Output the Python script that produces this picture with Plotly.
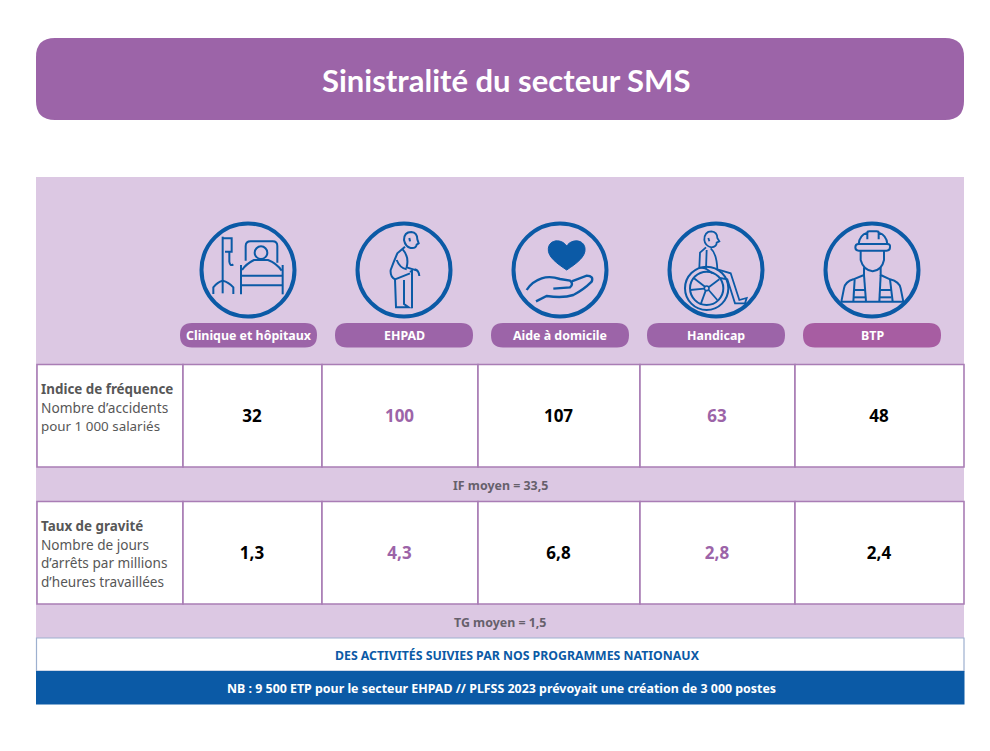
import re
import plotly.graph_objects as go

# ---- data ----
TITLE = "Sinistralité du secteur SMS"
categories = ["Clinique et hôpitaux", "EHPAD", "Aide à domicile", "Handicap", "BTP"]
if_values = [32, 100, 107, 63, 48]
tg_values = [1.3, 4.3, 6.8, 2.8, 2.4]
if_label = ["Indice de fréquence", "Nombre d’accidents", "pour 1 000 salariés"]
tg_label = ["Taux de gravité", "Nombre de jours", "d’arrêts par millions", "d’heures travaillées"]
if_mean = "IF moyen = 33,5"
tg_mean = "TG moyen = 1,5"
banner_white = "DES ACTIVITÉS SUIVIES PAR NOS PROGRAMMES NATIONAUX"
banner_blue = "NB : 9 500 ETP pour le secteur EHPAD // PLFSS 2023 prévoyait une création de 3 000 postes"

# ---- layout constants ----
W, H = 990, 751
PURPLE = "#9C64A8"
LIGHT = "#DCC8E3"
BORDER = "#A97DB5"
BLUE = "#0B5AA6"
GREY = "#575757"
FONT = "Noto Sans"
col_edges = [37, 183, 322, 478, 640, 795, 964]
row_if = (364.5, 467)
row_tg = (501.5, 604)
circle_x = [248, 404, 560, 716, 872]
pill_edges = [(180, 317), (335, 473), (491, 629), (647, 785), (803, 941)]
pill_colors = [PURPLE, PURPLE, PURPLE, PURPLE, "#A75DA2"]

shapes = []


def rrect(x0, y0, x1, y1, r, fill, line=None, lw=0):
    p = (f"M{x0+r},{y0} L{x1-r},{y0} Q{x1},{y0} {x1},{y0+r} L{x1},{y1-r} Q{x1},{y1} {x1-r},{y1} "
         f"L{x0+r},{y1} Q{x0},{y1} {x0},{y1-r} L{x0},{y0+r} Q{x0},{y0} {x0+r},{y0} Z")
    shapes.append(dict(type="path", path=p, fillcolor=fill, line=dict(color=line or fill, width=lw),
                       layer="below"))


def rect(x0, y0, x1, y1, fill, line=None, lw=0):
    shapes.append(dict(type="rect", x0=x0, y0=y0, x1=x1, y1=y1, fillcolor=fill,
                       line=dict(color=line or fill, width=lw), layer="below"))


def glyph(path, ox, oy, width=2.0, fill=None):
    """Icon paths are written at 3x scale relative to a crop origin."""
    i = {"n": 0}

    def sub(m):
        v = float(m.group()) / 3 + (oy if i["n"] % 2 else ox)
        i["n"] += 1
        return f"{v:.2f}"

    out = re.sub(r"-?\d+\.?\d*", sub, path)
    shapes.append(dict(type="path", path=out, line=dict(color=BLUE, width=width),
                       fillcolor=fill or "rgba(0,0,0,0)", layer="below"))


def circ(cx, cy, r, ox, oy, width=2.0):
    glyph(f"M{cx-r},{cy} C{cx-r},{cy-0.55*r} {cx-0.55*r},{cy-r} {cx},{cy-r} "
          f"C{cx+0.55*r},{cy-r} {cx+r},{cy-0.55*r} {cx+r},{cy} "
          f"C{cx+r},{cy+0.55*r} {cx+0.55*r},{cy+r} {cx},{cy+r} "
          f"C{cx-0.55*r},{cy+r} {cx-r},{cy+0.55*r} {cx-r},{cy} Z", ox, oy, width)


# panels
rrect(36, 38, 964, 120, 19, PURPLE)
rect(36, 177, 964, 638, LIGHT)
for top, bottom in (row_if, row_tg):
    for a, b in zip(col_edges[:-1], col_edges[1:]):
        rect(a, top, b, bottom, "white", BORDER, 1.6)
rect(36.5, 638, 964, 671, "white", "#9DB0CF", 1.2)
rect(36, 671, 964.5, 704.5, BLUE)

# pills and icon rings
for (a, b), c in zip(pill_edges, pill_colors):
    rrect(a, 323, b, 347.5, 12, c)
for cx in circle_x:
    shapes.append(dict(type="circle", x0=cx - 46.5, x1=cx + 46.5, y0=270 - 46.5, y1=270 + 46.5,
                       line=dict(color=BLUE, width=4), fillcolor="rgba(0,0,0,0)", layer="below"))

# bed icon
O1 = (180, 210)
for p in [
    "M128,80 L128,250", "M128,85 L155,85 L155,125 L135,125",
    "M148,125 L148,155 Q150,170 160,163",
    "M100,252 L100,232 Q112,216 128,212 Q146,216 160,232 L160,252",
    "M197,152 L197,108 Q197,94 212,94 L278,94 Q292,94 292,108 L292,158",
    "M183,165 L183,253", "M308,165 L308,253", "M183,197 L308,197", "M183,226 L308,226",
    "M186,180 Q198,162 222,150 L264,150 Q290,160 305,182",
]:
    glyph(p, *O1)
circ(243, 128, 19, *O1)

# elderly person icon
for p in [
    "M672,90 Q672,66 694,66 Q712,68 712,88 L716,100 L710,104 Q708,116 692,114 Q676,110 672,90 Z",
    "M688,84 L690,94",
    "M675,110 L652,130 Q640,158 632,180 Q630,200 645,208 L648,292 L686,292 L672,282 L672,210",
    "M645,208 L690,190",
    "M668,118 Q688,140 680,172 L712,182",
    "M650,150 Q660,175 680,178",
    "M690,186 L696,182 L696,295",
    "M704,178 Q716,180 718,198",
]:
    glyph(p, *O1)

# hand and heart icon
O2 = (490, 210)
glyph("M230,180 C200,160 172,140 175,115 C178,88 215,85 230,108 C245,85 282,88 285,115 "
      "C288,140 260,160 230,180 Z", *O2, width=1, fill=BLUE)
for p in [
    "M110,240 Q125,215 155,205 Q180,197 210,207 L240,212 Q252,222 240,232 L190,236",
    "M245,214 L290,197 Q312,198 305,215 Q280,240 250,255 Q220,265 170,258 L138,274",
]:
    glyph(p, *O2, width=2.4)

# wheelchair icon
for r in (65, 50):
    circ(650, 235, r, *O2)
circ(650, 235, 7, *O2, width=1.6)
for p in [
    "M645,230 L612,205", "M657,231 L688,208", "M656,240 L682,270",
    "M647,242 L632,283", "M643,236 L600,240",
    "M643,90 Q643,64 664,64 Q682,66 682,84 L688,94 L680,98 Q680,110 664,112 Q645,108 643,90 Z",
    "M655,84 L658,94",
    "M648,112 L630,128 L628,172 L648,176",
    "M662,115 Q680,130 682,178 L722,190 L748,270 L770,264 L765,280 L735,280 L712,208 L690,204",
    "M650,120 L648,176 L668,190",
]:
    glyph(p, *O2, width=1.8)

# worker icon
for p in [
    "M1106,102 Q1108,76 1132,68 L1132,88 M1132,68 Q1132,64 1138,64 L1160,64 Q1166,64 1166,68 L1166,88 "
    "M1166,68 Q1190,76 1192,102",
    "M1106,102 L1192,102 Q1202,102 1200,112 Q1200,122 1190,122 L1106,122 Q1096,122 1096,112 Q1096,102 1106,102 Z",
    "M1112,122 L1112,150 Q1120,180 1148,184 Q1176,180 1182,150 L1182,122",
    "M1122,172 L1122,195 L1090,208 Q1066,215 1062,235 L1054,275 L1240,275 L1232,235 Q1228,215 1200,208 "
    "L1172,195 L1172,172",
    "M1094,208 L1090,275", "M1200,208 L1208,275",
    "M1122,195 L1128,275", "M1172,195 L1168,275",
    "M1092,240 L1126,240", "M1170,240 L1204,240", "M1092,262 L1126,262", "M1170,262 L1204,262",
]:
    glyph(p, *O2, width=2.0)


# text helper
annos = []


def txt(x, y, s, size, color, anchor="center", bold=False, family=FONT):
    annos.append(dict(x=x, y=y, xref="x", yref="y", text=f"<b>{s}</b>" if bold else s,
                      showarrow=False, xanchor=anchor, yanchor="middle",
                      font=dict(family=family, size=size, color=color)))


txt(505.5, 80, TITLE, 31, "white", bold=True, family="Lato")
for (a, b), name in zip(pill_edges, categories):
    txt((a + b) / 2, 335.5, name, 12.4, "white", bold=True)
txt(39, 389, if_label[0], 13.4, GREY, "left", True)
txt(39, 407, if_label[1], 13.7, GREY, "left")
txt(39, 425.5, if_label[2], 13.4, GREY, "left")
txt(39, 526, tg_label[0], 13.4, GREY, "left", True)
for k, y in enumerate((544, 562.5, 581)):
    txt(39, y, tg_label[k + 1], 13.6, GREY, "left")
txt(500, 485, if_mean, 12.4, "#66606B", bold=True)
txt(500, 622, tg_mean, 12.4, "#66606B", bold=True)
txt(517.5, 655, banner_white, 12.3, BLUE, bold=True)
txt(501.5, 688, banner_blue, 12.4, "white", bold=True)

# values
col_centers = [(a + b) / 2 for a, b in zip(col_edges[1:-1], col_edges[2:])]
colors = ["#000000", PURPLE, "#000000", PURPLE, "#000000"]
fig = go.Figure()
for vals, (top, bottom), fmt in ((if_values, row_if, "{}"), (tg_values, row_tg, "{:.1f}")):
    fig.add_trace(go.Scatter(
        x=[c - 0.5 for c in col_centers], y=[(top + bottom) / 2 + 2.2] * 5, mode="text",
        text=[fmt.format(v).replace(".", ",") for v in vals],
        textposition="middle center",
        textfont=dict(family=FONT, size=17, color=colors, weight="bold"),
        hoverinfo="skip", showlegend=False, cliponaxis=False))

fig.update_layout(
    width=W, height=H, margin=dict(l=0, r=0, t=0, b=0), paper_bgcolor="white", plot_bgcolor="white",
    xaxis=dict(range=[0, W], visible=False, fixedrange=True),
    yaxis=dict(range=[H, 0], visible=False, fixedrange=True),
    shapes=shapes, annotations=annos, showlegend=False,
)
fig.write_html("out.html", config={"displayModeBar": False},
               post_script="document.body.style.margin='0';")
